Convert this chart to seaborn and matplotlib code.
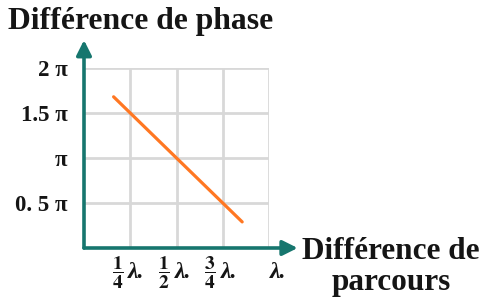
import matplotlib
matplotlib.use("Agg")
import matplotlib.pyplot as plt
import matplotlib.transforms as mtransforms
import seaborn as sns
import pandas as pd

# path difference (in units of lambda) and phase difference (in units of pi)
parcours = [0.16, 0.855]
phase = [1.68, 0.29]

x_ticks = [0.25, 0.5, 0.75, 1.0]
x_fracs = [r"$\mathbf{\dfrac{1}{4}}$", r"$\mathbf{\dfrac{1}{2}}$",
           r"$\mathbf{\dfrac{3}{4}}$", ""]
y_ticks = [0.5, 1.0, 1.5, 2.0]
y_labels = ["0. 5 π", "π", "1.5 π", "2 π"]

sns.set_style("white")
plt.rcParams["font.family"] = ["Liberation Serif", "DejaVu Serif"]
plt.rcParams["mathtext.fontset"] = "stix"

teal = "#16766e"
orange = "#ff7722"
ink = "#151515"

fig = plt.figure(figsize=(4.85, 3.03), dpi=100)
ax = fig.add_axes([84 / 485, 55 / 303, 185 / 485, 180 / 303])

df = pd.DataFrame({"parcours": parcours, "phase": phase})
sns.lineplot(data=df, x="parcours", y="phase", color=orange, linewidth=2.3, ax=ax)

ax.set_xlim(0, 1)
ax.set_ylim(0, 2)
ax.set_xticks(x_ticks)
ax.set_xticklabels([""] * len(x_ticks))
ax.set_yticks(y_ticks)
ax.set_yticklabels(y_labels, fontsize=16.5, fontweight="bold", color=ink)
ax.tick_params(axis="both", length=0)
ax.tick_params(axis="y", pad=12)
ax.grid(True, color="#d8d8d8", linewidth=2)
for s in ax.spines.values():
    s.set_visible(False)
ax.set_xlabel("")
ax.set_ylabel("")

# x labels: fraction then lambda, under each grid line
trans = mtransforms.blended_transform_factory(ax.transData, ax.transAxes)
for xt, fr in zip(x_ticks, x_fracs):
    if fr:
        off_f = mtransforms.ScaledTranslation(-7 / 100, -25 / 100, fig.dpi_scale_trans)
        ax.text(xt, 0, fr, fontsize=14, color=ink, ha="right", va="center",
                transform=trans + off_f)
    dx = -2 if fr else 1
    off = mtransforms.ScaledTranslation(dx / 100, -25 / 100, fig.dpi_scale_trans)
    ax.text(xt, 0, "λ.", fontsize=17, fontweight="bold", style="italic",
            color=ink, ha="left", va="center", transform=trans + off)

# axis arrows
arrow = dict(arrowstyle="-|>,head_length=0.9,head_width=0.45",
             color=teal, lw=2.6, shrinkA=0, shrinkB=0)
ax.annotate("", xy=(1.155, 0), xytext=(0, 0), arrowprops=arrow,
            annotation_clip=False)
ax.annotate("", xy=(0, 2.31), xytext=(0, 0), arrowprops=arrow,
            annotation_clip=False)

fig.text(8 / 485, 1 - 21 / 303, "Différence de phase", fontsize=22.8,
         fontweight="bold", ha="left", va="center", color=ink)
fig.text(391 / 485, 1 - 267 / 303, "Différence de\nparcours", fontsize=22.5,
         fontweight="bold", ha="center", va="center", color=ink,
         linespacing=1.1)

fig.savefig("out.png", dpi=100)
